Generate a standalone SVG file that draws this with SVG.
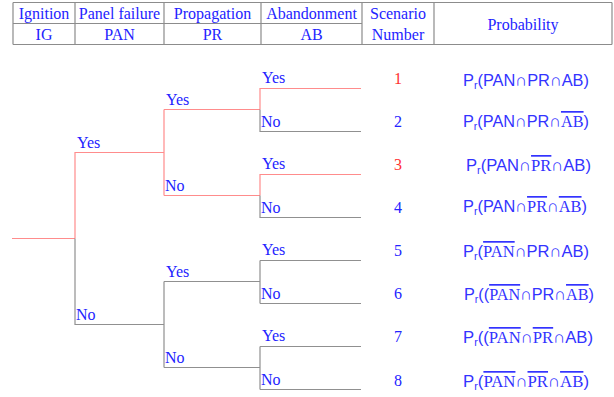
<svg xmlns="http://www.w3.org/2000/svg" width="614" height="397" viewBox="0 0 614 397">
<style>
.h{font-family:"Liberation Serif",serif;font-size:16px;fill:#2323ff;text-anchor:middle}
.lb{font-family:"Liberation Serif",serif;font-size:16px;fill:#2323ff}
.num{font-family:"Liberation Serif",serif;font-size:16px;fill:#2323ff;text-anchor:middle}
.red{fill:#ff3030}
.pr{font-family:"Liberation Sans","DejaVu Sans",sans-serif;font-size:17px;fill:#3333ff}
.ov{font-family:"Liberation Serif",serif;text-decoration:overline}
.sub{font-size:11px}
.grid{stroke:#8c8c8c;stroke-width:1.2;fill:none}
.r{stroke:#ff8c8c;stroke-width:1.2;fill:none}
.g{stroke:#909090;stroke-width:1.2;fill:none}
</style>
<g id="header">
<path class="grid" d="M13 2.5H612M13 23.5H362M13 44.5H612M13 2.5V44.5M75 2.5V44.5M164 2.5V44.5M261 2.5V44.5M362 2.5V44.5M434 2.5V44.5M612 2.5V44.5"/>
<text class="h" x="44" y="19">Ignition</text>
<text class="h" x="119.5" y="19">Panel failure</text>
<text class="h" x="212.5" y="19">Propagation</text>
<text class="h" x="311.5" y="19">Abandonment</text>
<text class="h" x="44" y="40">IG</text>
<text class="h" x="119.5" y="40">PAN</text>
<text class="h" x="212.5" y="40">PR</text>
<text class="h" x="311.5" y="40">AB</text>
<text class="h" x="398" y="19">Scenario</text>
<text class="h" x="398" y="40">Number</text>
<text class="h" x="523" y="30">Probability</text>
</g>
<g id="connectors">
<path class="r" d="M12 238.5H75M75 238.5V152.5H164M164 109.5V195.5M164 109.5H260M260 109.5V88.5H361M164 195.5H260M260 195.5V174.5H361"/>
<path class="g" d="M75 238.5V324.5H164M260 109.5V131.5H361M260 195.5V217.5H361M164 281.5V367.5M164 281.5H260M260 260.5V303.5M260 260.5H361M260 303.5H361M164 367.5H260M260 346.5V389.5M260 346.5H361M260 389.5H361"/>
</g>
<g id="branch-labels" font-family="Liberation Serif, serif" font-size="16" fill="#2323ff">
<text x="77" y="148">Yes</text>
<text x="76" y="320">No</text>
<text x="166" y="105">Yes</text>
<text x="165" y="191">No</text>
<text x="166" y="277">Yes</text>
<text x="165" y="363">No</text>
<text x="262" y="83">Yes</text>
<text x="261" y="127">No</text>
<text x="262" y="169">Yes</text>
<text x="261" y="213">No</text>
<text x="262" y="255">Yes</text>
<text x="261" y="299">No</text>
<text x="262" y="341">Yes</text>
<text x="261" y="385">No</text>
</g>
<g id="scenario-1"><text class="num red" x="398" y="84">1</text>
<text class="pr" x="463" y="86" textLength="126" lengthAdjust="spacingAndGlyphs">P<tspan class="sub" dy="3">r</tspan><tspan dy="-3">(PAN∩PR∩AB)</tspan></text></g>
<g id="scenario-2"><text class="num" x="398" y="127">2</text>
<text class="pr" x="463" y="127" textLength="126" lengthAdjust="spacingAndGlyphs">P<tspan class="sub" dy="3">r</tspan><tspan dy="-3">(PAN∩PR∩</tspan><tspan class="ov">AB</tspan>)</text></g>
<g id="scenario-3"><text class="num red" x="398" y="170">3</text>
<text class="pr" x="466" y="171" textLength="125" lengthAdjust="spacingAndGlyphs">P<tspan class="sub" dy="3">r</tspan><tspan dy="-3">(PAN∩</tspan><tspan class="ov">PR</tspan>∩AB)</text></g>
<g id="scenario-4"><text class="num" x="398" y="213">4</text>
<text class="pr" x="463" y="212" textLength="124" lengthAdjust="spacingAndGlyphs">P<tspan class="sub" dy="3">r</tspan><tspan dy="-3">(PAN∩</tspan><tspan class="ov">PR</tspan>∩<tspan class="ov">AB</tspan>)</text></g>
<g id="scenario-5"><text class="num" x="398" y="256">5</text>
<text class="pr" x="463" y="257" textLength="126" lengthAdjust="spacingAndGlyphs">P<tspan class="sub" dy="3">r</tspan><tspan dy="-3">(</tspan><tspan class="ov">PAN</tspan>∩PR∩AB)</text></g>
<g id="scenario-6"><text class="num" x="398" y="299">6</text>
<text class="pr" x="464" y="300" textLength="130" lengthAdjust="spacingAndGlyphs">P<tspan class="sub" dy="3">r</tspan><tspan dy="-3">((</tspan><tspan class="ov">PAN</tspan>∩PR∩<tspan class="ov">AB</tspan>)</text></g>
<g id="scenario-7"><text class="num" x="398" y="342">7</text>
<text class="pr" x="463" y="343" textLength="130" lengthAdjust="spacingAndGlyphs">P<tspan class="sub" dy="3">r</tspan><tspan dy="-3">((</tspan><tspan class="ov">PAN</tspan>∩<tspan class="ov">PR</tspan>∩AB)</text></g>
<g id="scenario-8"><text class="num" x="398" y="386">8</text>
<text class="pr" x="463" y="387" textLength="126" lengthAdjust="spacingAndGlyphs">P<tspan class="sub" dy="3">r</tspan><tspan dy="-3">(</tspan><tspan class="ov">PAN</tspan>∩<tspan class="ov">PR</tspan>∩<tspan class="ov">AB</tspan>)</text></g>
</svg>
